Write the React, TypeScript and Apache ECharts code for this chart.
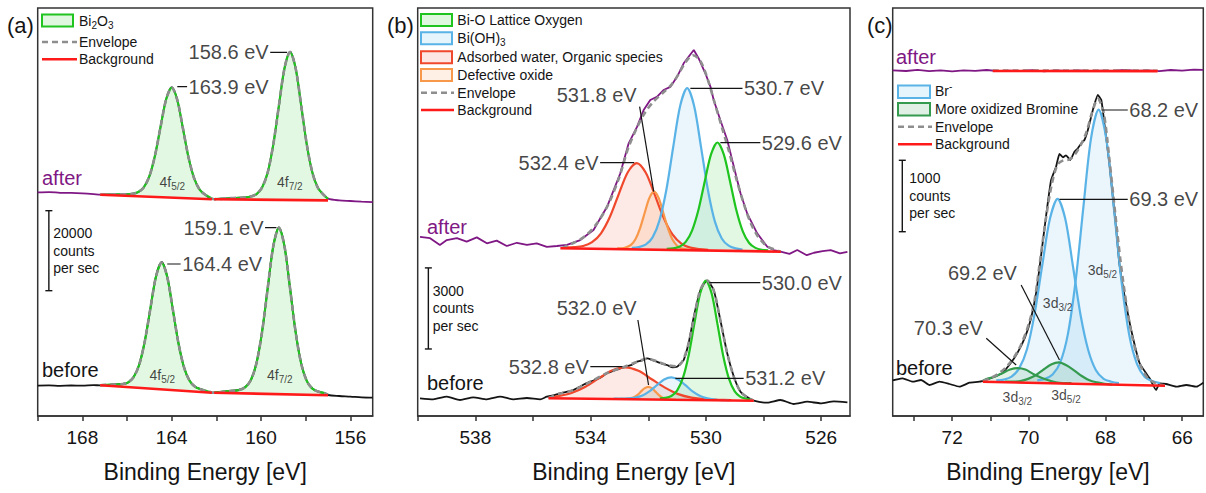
import React, { useEffect, useRef } from "react";
import * as echarts from "echarts";

const FONT = '"Liberation Sans", Arial, Helvetica, sans-serif';

// ---------- axes ----------
const TICKS_A = [156, 158, 160, 162, 164, 166, 168, 170];
const LABELS_A = [156, 160, 164, 168];
const TICKS_B = [526, 528, 530, 532, 534, 536, 538, 540];
const LABELS_B = [526, 530, 534, 538];
const TICKS_C = [66, 67, 68, 69, 70, 71, 72, 73];
const LABELS_C = [66, 68, 70, 72];
const AXIS_TITLE = "Binding Energy [eV]";

// ---------- panel (a) Bi 4f : [binding energy, counts/s] ----------
const AFTER_A = [[170,55900],[169.5,55980],[169,55800],[168.5,55760],[168,55650],[167.5,55480],[167.2,55350],[166.5,55420],[166,55450],[165.75,55580],[165.5,55950],[165.25,57200],[165,59900],[164.75,65100],[164.5,72300],[164.25,79200],[164,82200],[163.75,79000],[163.5,71900],[163.25,64700],[163,59550],[162.75,56650],[162.5,55350],[162.2,54250],[161.5,54400],[161,54600],[160.7,54650],[160.45,54900],[160.2,55450],[159.95,57200],[159.7,60900],[159.45,67950],[159.2,77550],[158.95,86900],[158.7,91100],[158.45,86950],[158.2,77500],[157.95,67800],[157.7,60850],[157.45,57050],[157.2,55300],[157,54350],[156.5,53900],[156,53750],[155.5,53600],[155,53480]];
const BEFORE_A = [[170,7600],[169.5,7650],[169,7550],[168.5,7620],[168,7580],[167.5,7700],[167.2,7680],[166.7,7850],[166.2,8000],[165.95,8400],[165.7,9800],[165.45,12900],[165.2,18850],[164.95,27000],[164.7,35000],[164.45,38500],[164.2,34800],[163.95,26600],[163.7,18300],[163.45,12200],[163.2,8850],[162.95,7300],[162.7,6700],[162.2,5850],[161.5,6200],[161,6500],[160.7,7250],[160.45,9050],[160.2,13300],[159.95,21200],[159.7,32000],[159.45,42500],[159.2,47150],[158.95,42400],[158.7,31900],[158.45,20950],[158.2,13100],[157.95,8750],[157.7,6850],[157.45,6100],[157.2,5780],[157,5250],[156.5,5000],[156,4850],[155.5,4650],[155,4600]];
const BI2O3_AFTER_52 = [[167.2,55300],[166.5,55400],[166,55430],[165.75,55560],[165.5,55980],[165.25,57150],[165,59940],[164.75,65070],[164.5,72230],[164.25,79130],[164,82100],[163.75,79020],[163.5,72010],[163.25,64740],[163,59500],[162.75,56600],[162.5,55320],[162.2,54350]];
const BI2O3_AFTER_72 = [[162.1,54200],[161.5,54430],[161,54550],[160.7,54640],[160.45,54880],[160.2,55500],[159.95,57140],[159.7,60940],[159.45,67920],[159.2,77600],[158.95,86940],[158.7,91000],[158.45,86920],[158.2,77540],[157.95,67840],[157.7,60820],[157.45,57000],[157.2,55320],[157,54300]];
const BI2O3_BEFORE_52 = [[167.2,7700],[166.7,7840],[166.2,7980],[165.95,8410],[165.7,9750],[165.45,12930],[165.2,18830],[164.95,27030],[164.7,34960],[164.45,38360],[164.2,34780],[163.95,26660],[163.7,18270],[163.45,12190],[163.2,8830],[162.95,7300],[162.7,6680],[162.2,5900]];
const BI2O3_BEFORE_72 = [[162.1,5830],[161.5,6210],[161,6480],[160.7,7230],[160.45,9070],[160.2,13330],[159.95,21150],[159.7,32020],[159.45,42510],[159.2,47060],[158.95,42450],[158.7,31890],[158.45,20960],[158.2,13070],[157.95,8750],[157.7,6850],[157.45,6110],[157.2,5780],[157,5300]];
const BG_A_AFTER_1 = [[167.2,55300],[162.2,54200]];
const BG_A_AFTER_2 = [[162.1,54200],[157,53900]];
const BG_A_BEFORE_1 = [[167.2,7680],[162.2,5830]];
const BG_A_BEFORE_2 = [[162.1,5830],[157,5180]];

// ---------- panel (b) O 1s ----------
const AFTER_B = [[539.92,6630],[539.57,6580],[539.23,6330],[538.99,6510],[538.64,6580],[538.3,6450],[537.95,6610],[537.6,6390],[537.26,6490],[536.91,6290],[536.56,6410],[536.21,6330],[535.87,6390],[535.52,6260],[535.17,6290],[534.82,6330],[534.36,6510],[533.9,6880],[533.43,7740],[532.97,8980],[532.68,10090],[532.39,10700],[532.16,11320],[531.93,11690],[531.7,11810],[531.47,12060],[531.23,12180],[531,12550],[530.77,13050],[530.6,13290],[530.42,13540],[530.25,13230],[530.02,12680],[529.84,12180],[529.73,11690],[529.5,10950],[529.26,10210],[529.03,9220],[528.8,8240],[528.57,7500],[528.22,6760],[527.87,6260],[527.65,6140],[527.41,6080],[527.1,6000],[526.83,6140],[526.5,5950],[526.25,6040],[525.95,6100],[525.67,6140],[525.35,6020],[525.09,6070]];
const BEFORE_B = [[539.92,655],[539.46,618],[538.99,714],[538.53,592],[538.07,691],[537.6,618],[537.14,714],[536.68,618],[536.21,666],[535.75,618],[535.52,714],[535.3,760],[535.06,840],[534.8,900],[534.59,962],[534.3,1130],[534.01,1269],[533.7,1400],[533.43,1580],[533.15,1700],[532.86,1802],[532.6,1880],[532.39,2009],[532.2,2060],[532.04,2135],[531.87,2080],[531.7,2009],[531.5,1930],[531.35,1887],[531.15,1800],[531,1824],[530.88,1950],[530.77,2072],[530.6,2690],[530.42,3674],[530.19,4662],[529.96,5006],[529.73,4662],[529.5,3552],[529.26,2320],[529.03,1454],[528.8,899],[528.57,700],[528.34,566],[527.87,492],[527.41,592],[526.95,444],[526.48,529],[526.02,470],[525.56,544],[525.09,507]];
const ENV_B_AFTER = [[535,6210],[534.6,6400],[534.2,6650],[533.8,7100],[533.4,7800],[533,8850],[532.7,9900],[532.4,10650],[532.1,11250],[531.8,11650],[531.5,11950],[531.2,12250],[530.95,12650],[530.7,13100],[530.45,13350],[530.2,13150],[529.95,12500],[529.7,11600],[529.45,10700],[529.2,9800],[528.95,8800],[528.7,7900],[528.45,7150],[528.2,6650],[527.9,6300],[527.6,6150],[527.4,6080]];
const ENV_B_BEFORE = [[535.46,660],[535.1,820],[534.6,960],[534,1270],[533.45,1580],[532.9,1790],[532.4,2000],[532.05,2120],[531.7,2020],[531.35,1890],[531,1840],[530.8,2050],[530.6,2690],[530.4,3700],[530.2,4650],[529.96,5010],[529.73,4650],[529.5,3550],[529.26,2320],[529.03,1450],[528.8,900],[528.55,680],[528.34,570]];
const LATTICE_AFTER = [[531.36,6180],[531.14,6200],[530.92,6260],[530.7,6440],[530.48,6860],[530.26,7620],[530.04,8680],[529.82,9690],[529.6,10120],[529.38,9680],[529.16,8670],[528.94,7600],[528.72,6830],[528.5,6400],[528.28,6220],[528.06,6150],[527.84,6130]];
const BIOH3_AFTER = [[532.57,6220],[532.33,6250],[532.09,6340],[531.85,6610],[531.61,7240],[531.37,8380],[531.13,9980],[530.89,11490],[530.65,12130],[530.41,11480],[530.17,9960],[529.93,8360],[529.69,7200],[529.45,6570],[529.21,6300],[528.97,6200],[528.73,6160]];
const WATER_AFTER = [[534.88,6240],[534.57,6250],[534.26,6290],[533.95,6430],[533.64,6760],[533.33,7370],[533.02,8220],[532.71,9020],[532.4,9360],[532.09,9010],[531.78,8200],[531.47,7340],[531.16,6720],[530.85,6380],[530.54,6230],[530.23,6180],[529.92,6150]];
const DEFECT_AFTER = [[533.08,6200],[532.92,6200],[532.76,6240],[532.6,6330],[532.44,6550],[532.28,6960],[532.12,7530],[531.96,8070],[531.8,8300],[531.64,8070],[531.48,7520],[531.32,6950],[531.16,6530],[531,6300],[530.84,6200],[530.68,6170],[530.52,6150]];
const LATTICE_BEFORE = [[531.6,650],[531.4,670],[531.2,740],[531,940],[530.8,1400],[530.6,2240],[530.4,3420],[530.2,4530],[530,5010],[529.8,4530],[529.6,3410],[529.4,2230],[529.2,1380],[529,910],[528.8,710],[528.6,640],[528.4,610]];
const WATER_BEFORE = [[535.46,680],[535.1,740],[534.64,860],[534.18,1080],[533.72,1390],[533.26,1680],[532.8,1800],[532.34,1670],[531.88,1360],[531.42,1050],[530.96,810],[530.5,680],[530.04,620],[529.58,600],[529.12,590]];
const BIOH3_BEFORE = [[533.2,640],[532.95,640],[532.7,650],[532.45,680],[532.2,760],[531.95,920],[531.7,1140],[531.45,1350],[531.2,1430],[530.95,1340],[530.7,1130],[530.45,900],[530.2,740],[529.95,650],[529.7,610],[529.45,590],[529.2,590]];
const DEFECT_BEFORE = [[532.96,630],[532.84,630],[532.72,640],[532.6,660],[532.48,700],[532.36,790],[532.24,920],[532.12,1030],[532,1080],[531.88,1030],[531.76,910],[531.64,780],[531.52,690],[531.4,640],[531.28,620],[531.16,610],[531.04,600]];
const BG_B_AFTER = [[535.05,6205],[527.4,6080]];
const BG_B_BEFORE = [[535.46,655],[528.34,566]];

// ---------- panel (c) Br 3d ----------
const AFTER_C = [[73.55,4840],[73.2,4830],[72.9,4845],[72.6,4828],[72.3,4838],[72,4826],[71.7,4840],[71.4,4832],[71.1,4844],[70.8,4828],[70.5,4836],[70.2,4830],[69.9,4842],[69.6,4826],[69.3,4838],[69,4832],[68.7,4840],[68.4,4828],[68.1,4836],[67.8,4830],[67.5,4846],[67.2,4830],[66.9,4838],[66.6,4828],[66.3,4844],[66,4836],[65.7,4850],[65.45,4845]];
const BEFORE_C = [[73.55,500],[73.51,504],[73.29,528],[73.03,480],[72.81,504],[72.59,434],[72.33,480],[72.07,448],[71.81,410],[71.55,466],[71.29,480],[71.1,510],[70.9,550],[70.7,600],[70.5,720],[70.3,880],[70.1,1100],[69.95,1350],[69.8,1750],[69.68,2250],[69.55,2800],[69.42,3300],[69.29,3490],[69.2,3668],[69.11,3622],[69.03,3650],[68.92,3584],[68.81,3700],[68.72,3748],[68.63,3818],[68.55,3864],[68.46,4004],[68.33,4284],[68.2,4494],[68.11,4424],[68.03,4098],[67.9,3538],[67.81,3070],[67.72,2604],[67.64,2138],[67.5,1670],[67.33,1204],[67.11,738],[66.85,528],[66.68,364],[66.59,458],[66.42,448],[66.16,410],[65.89,434],[65.63,410],[65.45,466]];
const ENV_C_BEFORE = [[71.2,490],[71,530],[70.8,590],[70.6,680],[70.4,810],[70.2,1000],[70,1290],[69.85,1620],[69.7,2200],[69.55,2780],[69.4,3250],[69.25,3520],[69.1,3580],[68.95,3590],[68.8,3660],[68.65,3790],[68.5,3970],[68.35,4250],[68.2,4440],[68.05,4250],[67.9,3600],[67.75,2850],[67.6,2130],[67.45,1550],[67.3,1100],[67.1,720],[66.9,530],[66.7,460],[66.45,424]];
const ENV_C_AFTER = [[70.94,4836],[68.8,4838],[66.64,4834]];
const BR_52 = [[69.78,500],[69.58,520],[69.38,580],[69.18,750],[68.98,1150],[68.78,1890],[68.58,2910],[68.38,3880],[68.18,4290],[67.98,3880],[67.78,2900],[67.58,1870],[67.38,1130],[67.18,730],[66.98,550],[66.78,490],[66.58,460]];
const BR_32 = [[70.85,500],[70.65,510],[70.45,550],[70.25,670],[70.05,930],[69.85,1430],[69.65,2110],[69.45,2760],[69.25,3040],[69.05,2760],[68.85,2100],[68.65,1410],[68.45,920],[68.25,640],[68.05,520],[67.85,480],[67.65,460]];
const OXBR_32 = [[71.2,490],[71.09,520],[70.89,550],[70.69,600],[70.49,650],[70.29,670],[70.09,650],[69.89,590],[69.69,540],[69.49,500],[69.29,470],[69.09,460],[68.89,460]];
const OXBR_52 = [[70.62,480],[70.42,480],[70.22,490],[70.02,520],[69.82,570],[69.62,650],[69.42,720],[69.22,750],[69.02,710],[68.82,640],[68.62,560],[68.42,500],[68.22,470],[68.02,450],[67.82,440]];
const BG_C_BEFORE = [[71.2,480],[66.45,424]];
const BG_C_AFTER = [[70.94,4830],[66.64,4828]];

// ---------- scale bars (counts per sec) ----------
const SCALE_COUNTS = [20000, 3000, 1000];

// ---------- peak labels ----------
const PEAKS_A = ["158.6 eV", "163.9 eV", "159.1 eV", "164.4 eV"];
const PEAKS_B = ["530.7 eV", "529.6 eV", "532.4 eV", "531.8 eV", "530.0 eV", "532.0 eV", "532.8 eV", "531.2 eV"];
const PEAKS_C = ["68.2 eV", "69.3 eV", "69.2 eV", "70.3 eV"];

// ---------- layout (positions, not data) ----------
const GRIDS = [
  { left: 37.7, top: 8, width: 335, height: 408 },
  { left: 417.7, top: 8, width: 432.3, height: 408 },
  { left: 892.7, top: 8, width: 310.6, height: 408 },
];
const X_RANGE = [[155, 170], [525, 540], [65.45, 73.55]];
const Y_MAX = [102000, 15096, 5712];
const SCALE_POS = [[169.5, 31330], [539.63, 2480], [73.3, 2580]];

const ANNOT_A = [
  { line: [[158.83, 90925], [159.59, 90925]], at: [159.59, 90925], pos: "left" },
  { line: [[163.75, 82325], [163.31, 82325]], at: [163.31, 82325], pos: "right" },
  { line: [[159.31, 47075], [159.82, 47075]], at: [159.82, 47075], pos: "left" },
  { line: [[164.2, 38000], [163.6, 38000]], at: [163.6, 38000], pos: "right" },
];
const ANNOT_B = [
  { line: [[530.54, 12125], [528.73, 12125]], at: [528.73, 12125], pos: "right" },
  { line: [[529.5, 10112], [528.11, 10112]], at: [528.11, 10112], pos: "right" },
  { line: [[532.49, 9372], [533.67, 9372]], at: [533.67, 9372], pos: "left" },
  { line: [[531.81, 8299], [532.3, 11444]], at: [533.79, 11877], pos: "inside" },
  { line: [[529.88, 4932], [528.11, 4932]], at: [528.11, 4932], pos: "right" },
  { line: [[531.99, 1147], [532.36, 3552]], at: [533.79, 3996], pos: "inside" },
  { line: [[532.9, 1824], [534.01, 1824]], at: [534.01, 1824], pos: "left" },
  { line: [[531.06, 1395], [528.69, 1395]], at: [528.69, 1395], pos: "right" },
];
const ANNOT_C = [
  { line: [[68.1, 4284], [67.42, 4284]], at: [67.42, 4284], pos: "right" },
  { line: [[69.2, 3034], [67.42, 3034]], at: [67.42, 3034], pos: "right" },
  { line: [[69.2, 784], [70.2, 1834]], at: [71.21, 1998], pos: "inside" },
  { line: [[70.33, 714], [71.11, 1088]], at: [72.1, 1228], pos: "inside" },
];
const SUB_A = [
  { m: "4f", s: "5/2", at: [163.97, 58575] },
  { m: "4f", s: "7/2", at: [158.71, 58575] },
  { m: "4f", s: "5/2", at: [164.42, 10250] },
  { m: "4f", s: "7/2", at: [159.16, 10250] },
];
const SUB_C = [
  { m: "3d", s: "5/2", at: [68.08, 2044] },
  { m: "3d", s: "3/2", at: [69.25, 1582] },
  { m: "3d", s: "3/2", at: [70.3, 270] },
  { m: "3d", s: "5/2", at: [69.03, 294] },
];

// ---------- styles ----------
const INK = "#141414";
const PURPLE = "#7f1784";
const ENV = "#8e8e8e";
const BGC = "#ff1a1a";
const GREEN = "#1fc41f", GREEN_F = "rgba(40,200,40,0.13)";
const BLUE = "#5ab3e6", BLUE_F = "rgba(90,179,230,0.13)";
const RED = "#f0482c", RED_F = "rgba(240,72,44,0.12)";
const ORANGE = "#f8984a", ORANGE_F = "rgba(248,152,74,0.14)";
const DKGREEN = "#339a4e", DKGREEN_F = "rgba(51,154,78,0.13)";

function line(g: number, data: number[][], color: string, width: number, z: number, extra: any = {}) {
  return {
    type: "line", xAxisIndex: g, yAxisIndex: g, data, symbol: "none", showSymbol: false,
    smooth: 0.3, silent: true, z, lineStyle: { color, width, ...(extra.lineStyle || {}) },
    ...(extra.smooth !== undefined ? { smooth: extra.smooth } : {}),
  };
}
function fill(g: number, data: number[][], color: string) {
  return {
    type: "custom", xAxisIndex: g, yAxisIndex: g, data, silent: true, z: 1,
    renderItem: (params: any, api: any) => {
      if (params.dataIndex !== 0) return null;
      return { type: "polygon", shape: { points: data.map((p) => api.coord(p)), smooth: 0.3 }, style: { fill: color } };
    },
  };
}
function comp(g: number, data: number[][], stroke: string, fillColor: string) {
  return [fill(g, data, fillColor), line(g, data, stroke, 2.2, 3)];
}
function env(g: number, data: number[][]) {
  return line(g, data, ENV, 2.6, 4, { lineStyle: { type: [6, 4] } });
}
function bg(g: number, data: number[][]) {
  return line(g, data, BGC, 2.6, 5, { smooth: false });
}
function annots(g: number, list: any[], texts: string[]) {
  const out: any[] = [];
  list.forEach((a) => out.push(line(g, a.line, INK, 1.2, 6, { smooth: false })));
  out.push({
    type: "scatter", xAxisIndex: g, yAxisIndex: g, symbolSize: 1, silent: true, z: 7,
    itemStyle: { color: "transparent" },
    data: list.map((a, i) => ({
      value: a.at,
      label: { show: true, position: a.pos, distance: 1, formatter: texts[i], fontSize: 20, color: INK, fontFamily: FONT },
    })),
  });
  return out;
}
function subs(g: number, list: any[]) {
  return {
    type: "scatter", xAxisIndex: g, yAxisIndex: g, symbolSize: 1, silent: true, z: 7,
    itemStyle: { color: "transparent" },
    data: list.map((a) => ({
      value: a.at,
      label: {
        show: true, position: "inside", formatter: `{m|${a.m}}{s|${a.s}}`,
        rich: {
          m: { fontSize: 14, color: INK, fontFamily: FONT },
          s: { fontSize: 10, color: INK, fontFamily: FONT, padding: [9, 0, 0, 0] },
        },
      },
    })),
  };
}
function scaleBar(g: number) {
  const [x, y0] = SCALE_POS[g];
  return {
    type: "line", xAxisIndex: g, yAxisIndex: g, silent: true, z: 6,
    data: [[x, y0], [x, y0 + SCALE_COUNTS[g]]],
    symbol: "rect", symbolSize: [7, 1.4], showSymbol: true,
    itemStyle: { color: INK }, lineStyle: { color: INK, width: 1.4 },
  };
}

function txt(x: number, y: number, text: string, size: number, color = INK, rich?: any) {
  return {
    type: "text", x, y, silent: true, z: 100,
    style: { text, fontSize: size, fontFamily: FONT, fill: color, align: "left", verticalAlign: "middle", ...(rich ? { rich } : {}) },
  };
}
function swatch(x: number, y: number, w: number, h: number, stroke: string, fillColor: string) {
  return { type: "rect", silent: true, z: 100, shape: { x, y, width: w, height: h }, style: { fill: fillColor, stroke, lineWidth: 2 } };
}
function hline(x1: number, x2: number, y: number, color: string, dash?: number[]) {
  return { type: "line", silent: true, z: 100, shape: { x1, y1: y, x2, y2: y }, style: { stroke: color, lineWidth: 2.6, ...(dash ? { lineDash: dash } : {}) } };
}
const SUBR = { s: { fontSize: 10, padding: [9, 0, 0, 0], fontFamily: FONT, fill: INK } };
const SUPR = { p: { fontSize: 10, padding: [0, 0, 9, 0], fontFamily: FONT, fill: INK } };

function buildOption() {
  const xAxes = [0, 1, 2].map((g) => ({
    type: "value", gridIndex: g, min: X_RANGE[g][0], max: X_RANGE[g][1], inverse: true,
    axisLine: { show: true, lineStyle: { color: "#333", width: 1.5 } },
    axisTick: { show: true, length: 5, customValues: [TICKS_A, TICKS_B, TICKS_C][g], lineStyle: { color: "#333", width: 1.5 } },
    axisLabel: { customValues: [LABELS_A, LABELS_B, LABELS_C][g], fontSize: 19, margin: 12, color: INK, fontFamily: FONT },
    splitLine: { show: false },
    name: AXIS_TITLE, nameLocation: "middle", nameGap: 44,
    nameTextStyle: { fontSize: 23, color: INK, fontFamily: FONT },
  }));
  const yAxes = [0, 1, 2].map((g) => ({ type: "value", gridIndex: g, min: 0, max: Y_MAX[g], show: false, splitLine: { show: false } }));

  const series: any[] = [
    // panel a
    ...comp(0, BI2O3_AFTER_52, GREEN, GREEN_F), ...comp(0, BI2O3_AFTER_72, GREEN, GREEN_F),
    ...comp(0, BI2O3_BEFORE_52, GREEN, GREEN_F), ...comp(0, BI2O3_BEFORE_72, GREEN, GREEN_F),
    line(0, AFTER_A, PURPLE, 1.8, 2), line(0, BEFORE_A, INK, 1.8, 2),
    env(0, [...BI2O3_AFTER_52, ...BI2O3_AFTER_72]), env(0, [...BI2O3_BEFORE_52, ...BI2O3_BEFORE_72]),
    bg(0, BG_A_AFTER_1), bg(0, BG_A_AFTER_2), bg(0, BG_A_BEFORE_1), bg(0, BG_A_BEFORE_2),
    ...annots(0, ANNOT_A, PEAKS_A), subs(0, SUB_A), scaleBar(0),
    // panel b
    ...comp(1, WATER_AFTER, RED, RED_F), ...comp(1, DEFECT_AFTER, ORANGE, ORANGE_F),
    ...comp(1, BIOH3_AFTER, BLUE, BLUE_F), ...comp(1, LATTICE_AFTER, GREEN, GREEN_F),
    ...comp(1, WATER_BEFORE, RED, RED_F), ...comp(1, DEFECT_BEFORE, ORANGE, ORANGE_F),
    ...comp(1, BIOH3_BEFORE, BLUE, BLUE_F), ...comp(1, LATTICE_BEFORE, GREEN, GREEN_F),
    line(1, AFTER_B, PURPLE, 1.8, 2, { smooth: false }), line(1, BEFORE_B, INK, 1.8, 2, { smooth: 0.2 }),
    env(1, ENV_B_AFTER), env(1, ENV_B_BEFORE),
    bg(1, BG_B_AFTER), bg(1, BG_B_BEFORE),
    ...annots(1, ANNOT_B, PEAKS_B), scaleBar(1),
    // panel c
    ...comp(2, BR_52, BLUE, BLUE_F), ...comp(2, BR_32, BLUE, BLUE_F),
    ...comp(2, OXBR_32, DKGREEN, DKGREEN_F), ...comp(2, OXBR_52, DKGREEN, DKGREEN_F),
    line(2, AFTER_C, PURPLE, 1.8, 2, { smooth: false }), line(2, BEFORE_C, INK, 1.8, 2, { smooth: 0.15 }),
    env(2, ENV_C_BEFORE), env(2, ENV_C_AFTER),
    bg(2, BG_C_BEFORE), bg(2, BG_C_AFTER),
    ...annots(2, ANNOT_C, PEAKS_C), subs(2, SUB_C), scaleBar(2),
  ];

  const graphic: any[] = [
    txt(7, 25, "(a)", 22), txt(387, 25, "(b)", 22), txt(867, 25, "(c)", 22),
    txt(42, 178, "after", 20, PURPLE), txt(42, 370, "before", 20),
    txt(427, 227, "after", 20, PURPLE), txt(427, 383, "before", 20),
    txt(896, 57, "after", 20, PURPLE), txt(896, 368, "before", 20),
    // legend a
    swatch(42, 14.5, 31, 12, GREEN, "rgba(40,200,40,0.15)"), txt(79, 21, "Bi{s|2}O{s|3}", 14, INK, SUBR),
    hline(42, 77, 42, ENV, [6, 4]), txt(79, 42, "Envelope", 14),
    hline(42, 77, 59.3, BGC), txt(79, 59.3, "Background", 14),
    // legend b
    swatch(421, 14, 31, 12, GREEN, "rgba(40,200,40,0.15)"), txt(457.3, 20, "Bi-O Lattice Oxygen", 14),
    swatch(421, 32.3, 31, 12, BLUE, "rgba(90,179,230,0.15)"), txt(457.3, 38.3, "Bi(OH){s|3}", 14, INK, SUBR),
    swatch(421, 51.3, 31, 12, RED, "rgba(240,72,44,0.13)"), txt(457.3, 57.3, "Adsorbed water, Organic species", 14),
    swatch(421, 69, 31, 12, ORANGE, "rgba(248,152,74,0.15)"), txt(457.3, 75, "Defective oxide", 14),
    hline(421, 454, 92.7, ENV, [6, 4]), txt(457.3, 92.7, "Envelope", 14),
    hline(421, 454, 110, BGC), txt(457.3, 110, "Background", 14),
    // legend c
    swatch(898, 85.5, 32, 12.5, BLUE, "rgba(90,179,230,0.15)"), txt(935, 90.7, "Br{p|-}", 14, INK, SUPR),
    swatch(898, 103, 32, 12.5, DKGREEN, "rgba(51,154,78,0.15)"), txt(935, 109, "More oxidized Bromine", 14),
    hline(898, 932, 126.7, ENV, [6, 4]), txt(935, 126.7, "Envelope", 14),
    hline(898, 932, 144.3, BGC), txt(935, 144.3, "Background", 14),
    // scale bar texts
    txt(53.3, 233.3, String(SCALE_COUNTS[0]), 14), txt(53.3, 250.7, "counts", 14), txt(53.3, 268, "per sec", 14),
    txt(432.7, 290.7, String(SCALE_COUNTS[1]), 14), txt(432.7, 308.3, "counts", 14), txt(432.7, 325.7, "per sec", 14),
    txt(909.3, 178.3, String(SCALE_COUNTS[2]), 14), txt(909.3, 196, "counts", 14), txt(909.3, 213.3, "per sec", 14),
  ];

  return {
    animation: false,
    backgroundColor: "#ffffff",
    grid: GRIDS.map((g) => ({ ...g, show: true, borderColor: "#333", borderWidth: 1.5, backgroundColor: "transparent", containLabel: false })),
    xAxis: xAxes,
    yAxis: yAxes,
    series,
    graphic,
  };
}

export default function App() {
  const ref = useRef<HTMLDivElement>(null);
  useEffect(() => {
    const chart = echarts.init(ref.current!, null, { renderer: "svg" });
    chart.setOption(buildOption() as any);
    return () => chart.dispose();
  }, []);
  return <div ref={ref} style={{ position: "fixed", left: 0, top: 0, width: 1206, height: 493, background: "#fff" }} />;
}
